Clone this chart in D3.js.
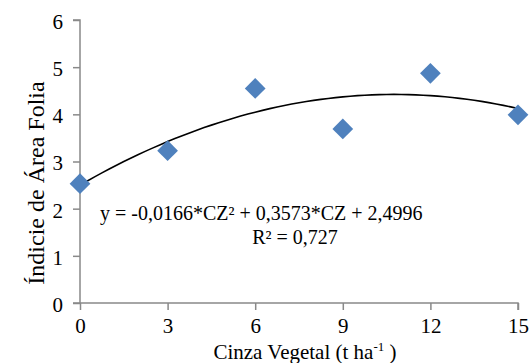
<!DOCTYPE html>
<html><head><meta charset="utf-8">
<script src="https://cdn.jsdelivr.net/npm/d3@7"></script>
</head><body style="margin:0">
<svg id="c" width="531" height="363"></svg>
<script>
const doses = [0, 3, 6, 9, 12, 15];
const iaf = [2.53, 3.23, 4.55, 3.69, 4.87, 3.99];
const xTicks = [0, 3, 6, 9, 12, 15];
const yTicks = [0, 1, 2, 3, 4, 5, 6];
const trendCoef = [2.4996, 0.3573, -0.0166];
const eqText = "y = -0,0166*CZ² + 0,3573*CZ + 2,4996";
const r2Text = "R² = 0,727";

const svg = d3.select("#c");
const sx = d3.scaleLinear().domain([0, 15]).range([80, 518]);
const sy = d3.scaleLinear().domain([0, 6]).range([303, 20]);
const axisColor = "#898989";

const gy = svg.append("g").attr("transform", "translate(80,0)")
  .call(d3.axisLeft(sy).tickValues(yTicks).tickSize(7).tickPadding(10).tickFormat(d3.format("d")));
const gx = svg.append("g").attr("transform", "translate(0,303)")
  .call(d3.axisBottom(sx).tickValues(xTicks).tickSize(7).tickPadding(8).tickFormat(d3.format("d")));
[gx, gy].forEach(g => {
  g.attr("font-family", "Liberation Serif").attr("font-size", 21);
  g.select(".domain").attr("stroke", axisColor).attr("stroke-width", 1.5);
  g.selectAll(".tick line").attr("stroke", axisColor).attr("stroke-width", 1.5);
  g.selectAll(".tick text").attr("fill", "#000");
});
gy.selectAll(".tick text").attr("dy", "0.4em");
gy.select(".domain").attr("d", "M0," + sy(0) + "V" + sy(6) + "H-7");
gx.select(".domain").attr("d", "M" + (sx(0) - 7) + ",0H" + sx(15) + "V7");

// trendline drawn from the regression coefficients printed on the chart
const trend = d3.line().x(d => sx(d)).y(d => sy(trendCoef[0] + trendCoef[1] * d + trendCoef[2] * d * d));
svg.append("path").attr("d", trend(d3.range(0, 15.01, 0.25)))
  .attr("fill", "none").attr("stroke", "#000").attr("stroke-width", 1.6);

const sym = d3.symbol().type(d3.symbolSquare).size(215);
svg.selectAll(".pt").data(doses).enter().append("path")
  .attr("class", "pt").attr("d", sym)
  .attr("transform", (d, i) => `translate(${sx(d)},${sy(iaf[i])}) rotate(45)`)
  .attr("fill", "#4F81BD");

svg.append("text").attr("x", 100).attr("y", 220).attr("font-size", 20).text(eqText);
svg.append("text").attr("x", 295).attr("y", 244).attr("text-anchor", "middle").attr("font-size", 20).text(r2Text);

const xt = svg.append("text").attr("x", 305).attr("y", 359).attr("text-anchor", "middle").attr("font-size", 21);
xt.append("tspan").text("Cinza Vegetal (t ha");
xt.append("tspan").attr("dy", -8).attr("font-size", 13).text("-1");
xt.append("tspan").attr("dy", 8).text(" )");

svg.append("text").attr("transform", "translate(44,183) rotate(-90)").attr("text-anchor", "middle")
  .attr("font-size", 24).text("Índicie de Área Folia");

svg.selectAll("text, tspan")
  .attr("font-family", "Liberation Serif")
  .style("font-family", "'Liberation Serif', 'Times New Roman', serif", "important");
</script>
</body></html>
